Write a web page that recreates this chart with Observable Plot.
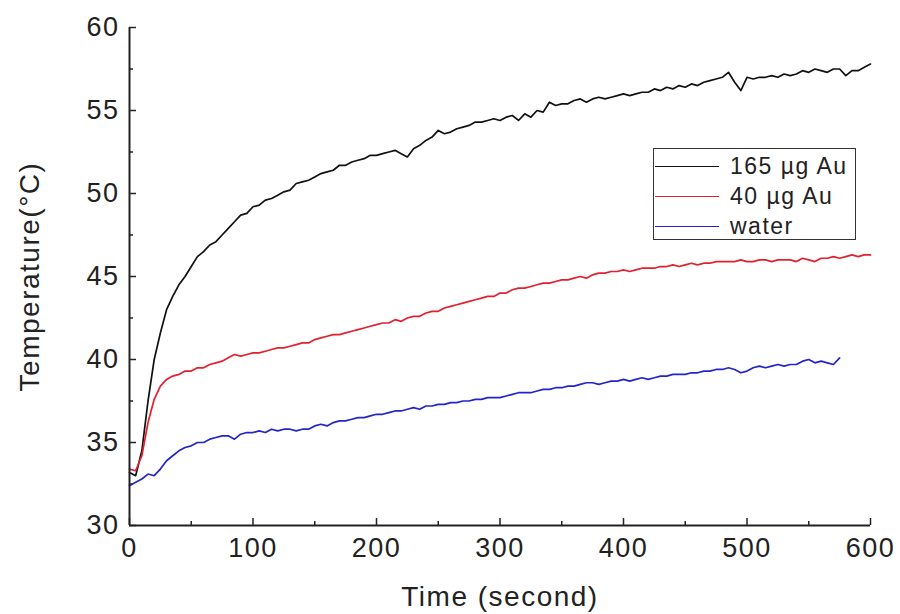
<!DOCTYPE html>
<html>
<head>
<meta charset="utf-8">
<script src="https://cdn.jsdelivr.net/npm/d3@7"></script>
<script src="https://cdn.jsdelivr.net/npm/@observablehq/plot@0.6"></script>
<style>
  html, body { margin: 0; padding: 0; background: #fff; }
  #wrap { position: relative; width: 900px; height: 614px; font-family: "Liberation Sans", Arial, sans-serif; }
  #wrap svg text { letter-spacing: 1.5px; }
  #legend { position: absolute; left: 653px; top: 148px; width: 203px; height: 92px; border: 1.5px solid #333; background: #fff; box-sizing: border-box; }
  #legend .row { position: absolute; left: 0; height: 30px; display: flex; align-items: center; font-size: 23px; letter-spacing: 1.5px; color: #222; white-space: nowrap; }
  #legend .sw { width: 64px; height: 0; border-top: 1.6px solid; margin-left: 1px; margin-right: 11px; }
</style>
</head>
<body>
<div id="wrap"></div>
<script>
// sample times (s), every 5 s
const time = d3.range(0, 605, 5);
const seriesNames = ["165 µg Au", "40 µg Au", "water"];
const seriesColors = ["#111111", "#e3202f", "#2424cc"];
const xTicks = [0, 100, 200, 300, 400, 500, 600];
const xMinor = [50, 150, 250, 350, 450, 550];
const yTicks = [30, 35, 40, 45, 50, 55, 60];
const yMinor = [32.5, 37.5, 42.5, 47.5, 52.5, 57.5];

const temp165 = [33.2,33.0,34.5,37.5,40.0,41.6,43.0,43.8,44.5,45.0,
45.6,46.2,46.5,46.9,47.1,47.5,47.9,48.3,48.7,48.8,
49.2,49.3,49.6,49.7,49.9,50.1,50.2,50.6,50.7,50.8,
51.0,51.2,51.3,51.4,51.7,51.7,51.9,52.0,52.1,52.3,
52.3,52.4,52.5,52.6,52.4,52.2,52.7,52.9,53.2,53.4,
53.8,53.6,53.7,53.9,54.0,54.1,54.3,54.3,54.4,54.5,
54.4,54.6,54.7,54.4,54.8,54.6,55.0,54.9,55.5,55.3,
55.4,55.4,55.6,55.7,55.5,55.7,55.8,55.7,55.8,55.9,
56.0,55.9,56.0,56.1,56.1,56.3,56.2,56.4,56.3,56.5,
56.4,56.6,56.5,56.7,56.8,56.9,57.0,57.3,56.7,56.2,
57.0,56.9,57.0,57.0,57.1,57.0,57.2,57.1,57.2,57.4,
57.3,57.5,57.4,57.3,57.5,57.5,57.1,57.4,57.4,57.6,
57.8];

const temp40 = [33.4,33.3,34.2,36.2,37.6,38.4,38.8,39.0,39.1,39.3,
39.3,39.5,39.5,39.7,39.8,39.9,40.1,40.3,40.2,40.3,
40.4,40.4,40.5,40.6,40.7,40.7,40.8,40.9,41.0,41.0,
41.2,41.3,41.4,41.5,41.5,41.6,41.7,41.8,41.9,42.0,
42.1,42.2,42.2,42.4,42.3,42.5,42.6,42.6,42.8,42.9,
42.9,43.1,43.2,43.3,43.4,43.5,43.6,43.7,43.8,43.8,
44.0,44.0,44.2,44.3,44.3,44.4,44.5,44.6,44.6,44.7,
44.8,44.8,44.9,45.0,44.9,45.1,45.2,45.2,45.3,45.3,
45.4,45.3,45.4,45.5,45.5,45.5,45.6,45.6,45.7,45.6,
45.7,45.8,45.7,45.8,45.8,45.9,45.9,45.9,45.9,46.0,
45.9,45.9,46.0,46.0,45.9,46.0,46.0,46.0,45.9,46.1,
46.0,45.9,46.1,46.1,46.2,46.1,46.2,46.3,46.2,46.3,
46.3];

const tempWater = [32.4,32.6,32.8,33.1,33.0,33.4,33.9,34.2,34.5,34.7,
34.8,35.0,35.0,35.2,35.3,35.4,35.4,35.2,35.5,35.6,
35.6,35.7,35.6,35.8,35.7,35.8,35.8,35.7,35.8,35.8,
36.0,36.1,36.0,36.2,36.3,36.3,36.4,36.5,36.5,36.6,
36.7,36.7,36.8,36.9,36.9,37.0,37.1,37.0,37.2,37.2,
37.3,37.3,37.4,37.4,37.5,37.5,37.6,37.6,37.7,37.7,
37.7,37.8,37.9,38.0,38.0,38.0,38.1,38.2,38.2,38.3,
38.3,38.4,38.4,38.5,38.6,38.6,38.5,38.6,38.7,38.7,
38.8,38.7,38.8,38.9,38.8,38.9,39.0,39.0,39.1,39.1,
39.1,39.2,39.2,39.3,39.3,39.4,39.4,39.5,39.4,39.2,
39.3,39.5,39.6,39.5,39.6,39.7,39.6,39.7,39.7,39.9,
40.0,39.8,39.9,39.8,39.7,40.1];

const allSeries = [temp165, temp40, tempWater];
const rows = allSeries.flatMap((arr, k) => arr.map((v, i) => ({t: time[i], T: v, s: seriesNames[k]})));

const W = 900, H = 614, mL = 129, mR = 30, mT = 27, mB = 89;
const plotW = W - mL - mR, plotH = H - mT - mB;

const chart = Plot.plot({
  width: W, height: H,
  marginLeft: mL, marginRight: mR, marginTop: mT, marginBottom: mB,
  style: {fontFamily: "'Liberation Sans', Arial, sans-serif", fontSize: "27px", color: "#222", background: "#fff"},
  x: {domain: [0, 600]},
  y: {domain: [30, 60]},
  color: {domain: seriesNames, range: seriesColors},
  marks: [
    Plot.axisX({ticks: xTicks, tickSize: 0, tickPadding: 12, label: null, fontSize: 27}),
    Plot.axisY({ticks: yTicks, tickSize: 0, tickPadding: 10, label: null, fontSize: 27}),
    Plot.ruleX(xTicks, {x: d => d, insetTop: plotH - 7, stroke: "#222", strokeWidth: 1.5}),
    Plot.ruleX(xMinor, {x: d => d, insetTop: plotH - 4, stroke: "#222", strokeWidth: 1.5}),
    Plot.ruleY(yTicks, {y: d => d, insetRight: plotW - 7, stroke: "#222", strokeWidth: 1.5}),
    Plot.ruleY(yMinor, {y: d => d, insetRight: plotW - 4, stroke: "#222", strokeWidth: 1.5}),
    Plot.line(rows, {x: "t", y: "T", z: "s", stroke: "s", strokeWidth: 1.7}),
    Plot.ruleX([0], {stroke: "#222", strokeWidth: 2}),
    Plot.ruleY([30], {stroke: "#222", strokeWidth: 2}),
    Plot.text(["Time (second)"], {frameAnchor: "bottom", textAnchor: "middle", dy: 80, fontSize: 28, fill: "#222"}),
    Plot.text(["Temperature(°C)"], {frameAnchor: "left", textAnchor: "middle", lineAnchor: "middle", rotate: -90, dx: -99, fontSize: 28, fill: "#222"})
  ]
});

const wrap = document.getElementById("wrap");
wrap.appendChild(chart);

const legend = document.createElement("div");
legend.id = "legend";
seriesNames.forEach((name, i) => {
  const row = document.createElement("div");
  row.className = "row";
  row.style.top = (2 + i * 30) + "px";
  const sw = document.createElement("span");
  sw.className = "sw";
  sw.style.borderTopColor = seriesColors[i];
  const lab = document.createElement("span");
  lab.textContent = name;
  row.appendChild(sw);
  row.appendChild(lab);
  legend.appendChild(row);
});
wrap.appendChild(legend);
</script>
</body>
</html>
